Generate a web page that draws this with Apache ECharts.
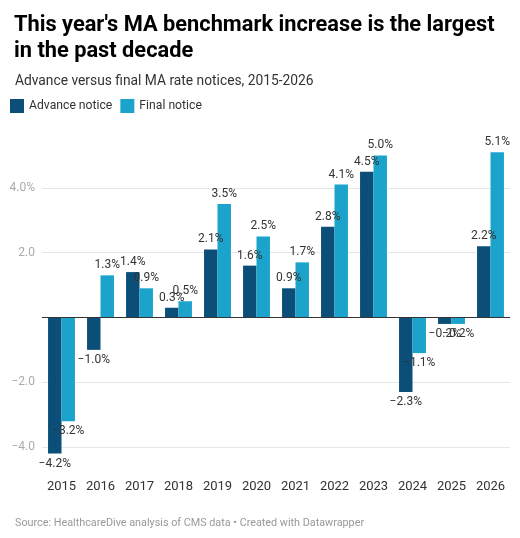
<!DOCTYPE html>
<html>
<head>
<meta charset="utf-8">
<script src="https://cdn.jsdelivr.net/npm/echarts@6/dist/echarts.min.js"></script>
<style>
html,body{margin:0;padding:0;background:#fff;}
#chart{width:520px;height:538px;}
</style>
</head>
<body>
<div id="chart"></div>
<script>
const years = ['2015','2016','2017','2018','2019','2020','2021','2022','2023','2024','2025','2026'];
const advance = [-4.2, -1.0, 1.4, 0.3, 2.1, 1.6, 0.9, 2.8, 4.5, -2.3, -0.2, 2.2];
const finalN = [-3.2, 1.3, 0.9, 0.5, 3.5, 2.5, 1.7, 4.1, 5.0, -1.1, -0.2, 5.1];
const yTickLabels = {'4': '4.0%', '2': '2.0', '-2': '\u22122.0', '-4': '\u22124.0'};

function fmt(v){
  const s = Math.abs(v).toFixed(1) + '%';
  return v < 0 ? '\u2212' + s : s;
}
function toItems(arr){
  return arr.map(v => ({value: v, label: {position: v < 0 ? 'bottom' : 'top'}}));
}
const labelStyle = {
  show: true, distance: 4, color: '#333', fontSize: 12, fontFamily: 'Roboto',
  formatter: p => fmt(p.value)
};

const chart = echarts.init(document.getElementById('chart'), null, {renderer: 'canvas'});
chart.setOption({
  backgroundColor: '#fff',
  animation: false,
  textStyle: {fontFamily: 'Roboto'},
  title: [
    {text: "This year's MA benchmark increase is the largest\nin the past decade", left: 9, top: 8,
     textStyle: {fontSize: 21.8, fontWeight: 'bold', color: '#000', lineHeight: 25.5, fontFamily: 'Roboto'}},
    {text: 'Advance versus final MA rate notices, 2015-2026', left: 10, top: 70,
     textStyle: {fontSize: 13.8, fontWeight: 'normal', color: '#333', fontFamily: 'Roboto'}},
    {text: 'Source: HealthcareDive analysis of CMS data \u2022 Created with Datawrapper', left: 10, top: 513,
     textStyle: {fontSize: 10.8, fontWeight: 'normal', color: '#999', fontFamily: 'Roboto'}}
  ],
  legend: {
    left: 10, top: 99, padding: 0, icon: 'rect', itemWidth: 14, itemHeight: 14, itemGap: 8,
    textStyle: {fontSize: 12.2, color: '#333', fontFamily: 'Roboto'},
    data: ['Advance notice', 'Final notice']
  },
  grid: {left: 42, right: 10, top: 136, height: 337, containLabel: false},
  xAxis: {
    type: 'category', data: years,
    axisLine: {show: false}, axisTick: {show: false},
    axisLabel: {color: '#333', fontSize: 13, margin: 7, fontFamily: 'Roboto'}
  },
  yAxis: {
    type: 'value', min: -4.8, max: 5.6, splitNumber: 5,
    axisLine: {show: false}, axisTick: {show: false},
    axisLabel: {
      color: '#aaa', fontSize: 12, margin: 7, fontFamily: 'Roboto',
      showMinLabel: false, showMaxLabel: false,
      formatter: v => (yTickLabels[String(Math.round(v))] !== undefined && Math.abs(v - Math.round(v)) < 1e-6) ? yTickLabels[String(Math.round(v))] : ''
    },
    splitLine: {show: true, showMinLine: false, showMaxLine: false, lineStyle: {color: '#e6e6e6', width: 1}}
  },
  series: [
    {
      name: 'Advance notice', type: 'bar', data: toItems(advance),
      itemStyle: {color: '#0b4f78'}, barGap: '0%', barCategoryGap: '31%',
      label: labelStyle,
      markLine: {silent: true, symbol: 'none', label: {show: false},
        lineStyle: {color: '#333', width: 1, type: 'solid'}, data: [{yAxis: 0}]}
    },
    {
      name: 'Final notice', type: 'bar', data: toItems(finalN),
      itemStyle: {color: '#1ba3cc'}, barGap: '0%', barCategoryGap: '31%',
      label: labelStyle
    }
  ]
});
</script>
</body>
</html>
